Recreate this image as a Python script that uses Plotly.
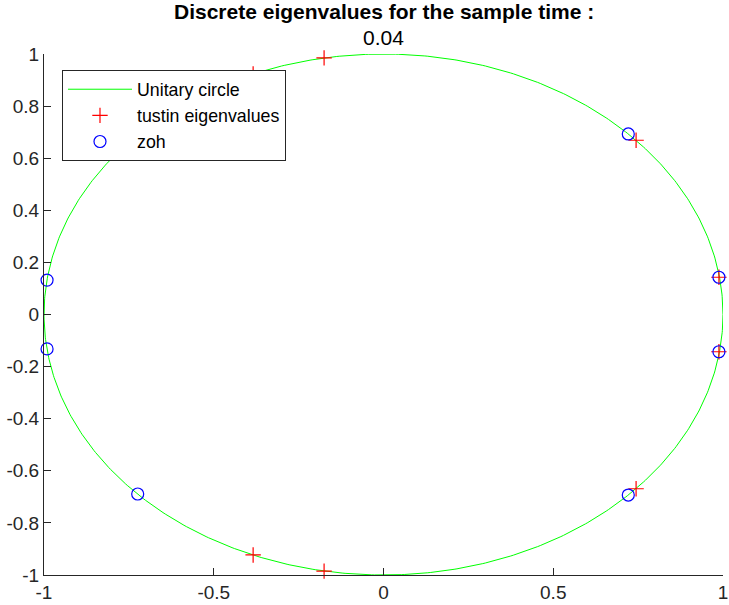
import numpy as np
import plotly.graph_objects as go

# Tustin eigenvalues (real, imag)
tustin_re = [-0.175, -0.384, 0.744, 0.988, 0.988, 0.744, -0.384, -0.175]
tustin_im = [0.985, 0.923, 0.669, 0.143, -0.143, -0.669, -0.923, -0.985]

# ZOH eigenvalues (real, imag)
zoh_re = [0.721, 0.988, 0.988, 0.721, -0.724, -0.991, -0.991, -0.724]
zoh_im = [0.693, 0.143, -0.143, -0.693, -0.689, -0.132, 0.132, 0.689]

title_line1 = "Discrete eigenvalues for the sample time :"
sample_time = "0.04"
x_ticks = [-1, -0.5, 0, 0.5, 1]
y_ticks = [-1, -0.8, -0.6, -0.4, -0.2, 0, 0.2, 0.4, 0.6, 0.8, 1]

theta = np.linspace(0, 2 * np.pi, 721)
circle_x = np.cos(theta)
circle_y = np.sin(theta)

FONT = "Liberation Sans, Arial, sans-serif"

fig = go.Figure()
fig.add_trace(go.Scatter(x=circle_x, y=circle_y, mode="lines",
                         line=dict(color="#00FF00", width=1), name="Unitary circle"))
fig.add_trace(go.Scatter(x=tustin_re, y=tustin_im, mode="markers", cliponaxis=False,
                         marker=dict(symbol="cross-thin", size=11, line=dict(color="#FF0000", width=1.2)),
                         name="tustin eigenvalues"))
fig.add_trace(go.Scatter(x=zoh_re, y=zoh_im, mode="markers", cliponaxis=False,
                         marker=dict(symbol="circle-open", size=12, color="#0000FF", line=dict(width=1.2)),
                         name="zoh"))

axis_common = dict(showgrid=False, zeroline=False, showline=True, linecolor="#262626", linewidth=1,
                   ticks="inside", ticklen=7, tickcolor="#262626", mirror=False, automargin=False,
                   tickfont=dict(family=FONT, size=19, color="#262626"))

fig.update_layout(
    width=729, height=605,
    margin=dict(l=44, r=6, t=54, b=30, autoexpand=False),
    plot_bgcolor="white", paper_bgcolor="white",
    xaxis=dict(range=[-1, 1], tickvals=x_ticks, ticktext=[("%g" % v) for v in x_ticks], **axis_common),
    yaxis=dict(range=[-1, 1], tickvals=y_ticks, ticktext=[("%g" % v) for v in y_ticks], **axis_common),
    legend=dict(x=0.0265, y=0.969, xanchor="left", yanchor="top",
                bgcolor="white", bordercolor="#262626", borderwidth=1,
                font=dict(family=FONT, size=17.8, color="black"),
                tracegroupgap=0, itemwidth=64),
    showlegend=True,
    annotations=[
        dict(text="<b>" + title_line1 + "</b>", xref="paper", yref="paper", x=0.5, y=1.0825,
             xanchor="center", yanchor="middle", showarrow=False,
             font=dict(family=FONT, size=21, color="black")),
        dict(text=sample_time, xref="paper", yref="paper", x=0.5, y=1.0326,
             xanchor="center", yanchor="middle", showarrow=False,
             font=dict(family=FONT, size=21, color="black")),
    ],
)

fig.write_html("out.html", config={"displayModeBar": False},
               post_script="document.body.style.margin='0';document.body.style.padding='0';")
